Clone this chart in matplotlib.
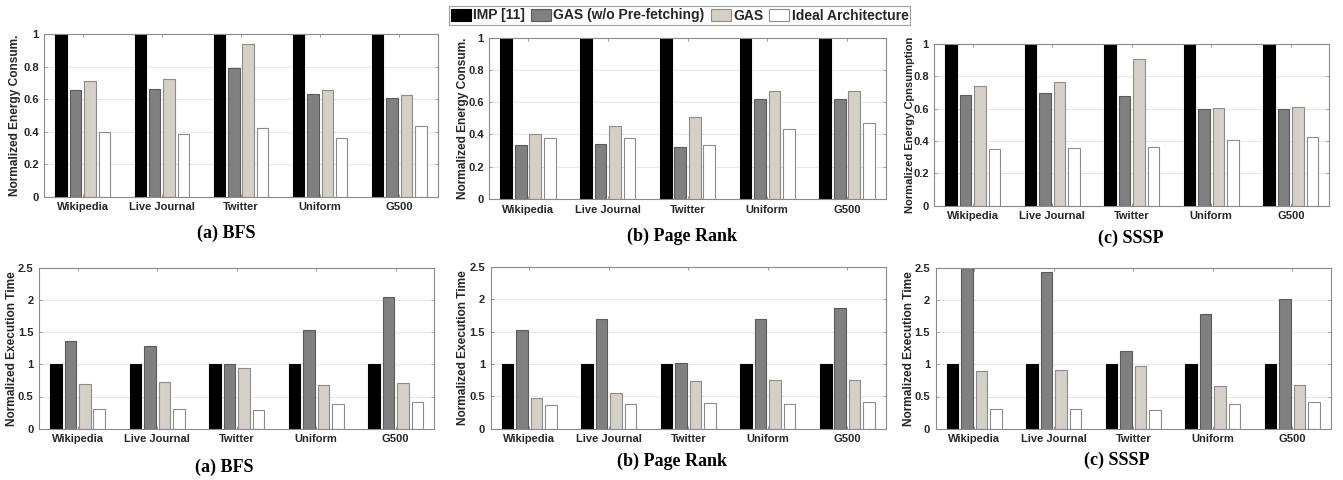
import matplotlib
matplotlib.use("Agg")
import matplotlib.pyplot as plt
import numpy as np
from matplotlib.ticker import FuncFormatter
from matplotlib.patches import Patch

categories = ['Wikipedia', 'Live Journal', 'Twitter', 'Uniform', 'G500']
series_names = ['IMP [11]', 'GAS (w/o Pre-fetching)', 'GAS', 'Ideal Architecture']

# Energy (top row)
bfs_energy_imp = [1, 1, 1, 1, 1]
bfs_energy_nopf = [0.66, 0.665, 0.793, 0.635, 0.607]
bfs_energy_gas = [0.71, 0.727, 0.942, 0.657, 0.625]
bfs_energy_ideal = [0.396, 0.386, 0.425, 0.361, 0.435]

pr_energy_imp = [1, 1, 1, 1, 1]
pr_energy_nopf = [0.335, 0.342, 0.325, 0.622, 0.622]
pr_energy_gas = [0.40, 0.45, 0.51, 0.67, 0.67]
pr_energy_ideal = [0.38, 0.38, 0.336, 0.435, 0.474]

sssp_energy_imp = [1, 1, 1, 1, 1]
sssp_energy_nopf = [0.685, 0.695, 0.68, 0.60, 0.598]
sssp_energy_gas = [0.743, 0.763, 0.905, 0.606, 0.608]
sssp_energy_ideal = [0.348, 0.355, 0.362, 0.404, 0.423]

# Execution time (bottom row)
bfs_time_imp = [1, 1, 1, 1, 1]
bfs_time_nopf = [1.36, 1.29, 1.0, 1.535, 2.05]
bfs_time_gas = [0.69, 0.72, 0.94, 0.675, 0.705]
bfs_time_ideal = [0.305, 0.30, 0.285, 0.378, 0.41]

pr_time_imp = [1, 1, 1, 1, 1]
pr_time_nopf = [1.52, 1.69, 1.015, 1.69, 1.86]
pr_time_gas = [0.47, 0.55, 0.735, 0.75, 0.745]
pr_time_ideal = [0.365, 0.375, 0.39, 0.375, 0.405]

sssp_time_imp = [1, 1, 1, 1, 1]
sssp_time_nopf = [2.5, 2.44, 1.21, 1.78, 2.02]
sssp_time_gas = [0.89, 0.91, 0.97, 0.66, 0.685]
sssp_time_ideal = [0.30, 0.31, 0.295, 0.378, 0.41]

face_colors = ['#000000', '#808080', '#d4d0c8', '#ffffff']
edge_colors = ['#000000', '#5a5a5a', '#8c8c8c', '#8c8c8c']

W, H = 1343, 480
fig = plt.figure(figsize=(W / 100, H / 100), dpi=100)

SANS = ['Liberation Sans', 'DejaVu Sans']
SERIF = ['Liberation Serif', 'DejaVu Serif']
TXT = '#262626'

def px_axes(x0, x1, y0, y1):
    return fig.add_axes([x0 / W, (H - y1) / H, (x1 - x0) / W, (y1 - y0) / H])

panels = [
    ((44.3, 437.7, 34.3, 196.7), [bfs_energy_imp, bfs_energy_nopf, bfs_energy_gas, bfs_energy_ideal],
     (0, 1), np.arange(0, 1.01, 0.2), 'Normalized Energy Consum.', 8.6, -0.059),
    ((489.3, 885.7, 37.7, 199.0), [pr_energy_imp, pr_energy_nopf, pr_energy_gas, pr_energy_ideal],
     (0, 1), np.arange(0, 1.01, 0.2), 'Normalized Energy Consum.', 8.6, -0.052),
    ((934.3, 1329.3, 44.0, 205.7), [sssp_energy_imp, sssp_energy_nopf, sssp_energy_gas, sssp_energy_ideal],
     (0, 1), np.arange(0, 1.01, 0.2), 'Normalized Energy Cpnsumption', 8.0, -0.049),
    ((39.0, 434.3, 267.7, 428.7), [bfs_time_imp, bfs_time_nopf, bfs_time_gas, bfs_time_ideal],
     (0, 2.5), np.arange(0, 2.51, 0.5), 'Normalized Execution Time', 8.6, -0.053),
    ((490.7, 886.0, 266.7, 428.7), [pr_time_imp, pr_time_nopf, pr_time_gas, pr_time_ideal],
     (0, 2.5), np.arange(0, 2.51, 0.5), 'Normalized Execution Time', 8.6, -0.055),
    ((935.7, 1330.7, 267.7, 428.7), [sssp_time_imp, sssp_time_nopf, sssp_time_gas, sssp_time_ideal],
     (0, 2.5), np.arange(0, 2.51, 0.5), 'Normalized Execution Time', 8.6, -0.053),
]

x = np.arange(1, len(categories) + 1)
group_width = 4 / (4 + 1.5)
bar_w = group_width / 4 * 0.8
offsets = [-group_width / 2 + (2 * i + 1) * group_width / 8 for i in range(4)]

for box, data, ylim, yticks, ylabel, lsize, labx in panels:
    ax = px_axes(*box)
    for i, vals in enumerate(data):
        ax.bar(x + offsets[i], vals, width=bar_w, color=face_colors[i],
               edgecolor=edge_colors[i], linewidth=0.8)
    ax.set_xlim(0.515, 5.485)
    ax.set_ylim(*ylim)
    ax.set_xticks(x)
    ax.set_xticklabels(categories, fontsize=8, fontweight='bold', family=SANS, color=TXT)
    ax.set_yticks(yticks)
    ax.yaxis.set_major_formatter(FuncFormatter(lambda v, p: ('%g' % round(v, 2))))
    for lab in ax.get_yticklabels():
        lab.set_fontsize(8)
        lab.set_fontweight('bold')
        lab.set_family(SANS)
        lab.set_color(TXT)
    ax.tick_params(direction='in', length=2.5, width=0.6, color='#8a8a8a',
                   top=True, right=True, pad=4)
    ax.yaxis.grid(True, color='#e8e8e8', linewidth=0.7)
    ax.set_axisbelow(True)
    for sp in ax.spines.values():
        sp.set_color('#8a8a8a')
        sp.set_linewidth(0.8)
    ax.set_ylabel(ylabel, fontsize=lsize, fontweight='bold', family=SANS, color=TXT)
    ax.yaxis.set_label_coords(labx, 0.5)

# Captions
caps = [
    ('(a) BFS', 226, 233), ('(b) Page Rank', 682, 236.5), ('(c) SSSP', 1131, 238.5),
    ('(a) BFS', 224, 467), ('(b) Page Rank', 672, 461.5), ('(c) SSSP', 1117, 460),
]
for t, cx, cy in caps:
    fig.text(cx / W, 1 - cy / H, t, ha='center', va='center', fontsize=13,
             fontweight='bold', family=SERIF, color='#000000')

# Legend
handles = [Patch(facecolor=face_colors[i], edgecolor=edge_colors[i], linewidth=0.8)
           for i in range(4)]
leg = fig.legend(handles, series_names, loc='center', bbox_to_anchor=(679.5 / W, 1 - 15.5 / H),
                 ncol=4, frameon=True, fancybox=False,
                 handlelength=1.45, handleheight=0.95, handletextpad=0.15,
                 columnspacing=0.45, borderpad=0.15, borderaxespad=0,
                 prop={'family': SANS, 'weight': 'bold', 'size': 10})
leg.get_frame().set_edgecolor('#8a8a8a')
leg.get_frame().set_linewidth(0.8)
for t in leg.get_texts():
    t.set_color(TXT)

fig.savefig('out.png', dpi=100)
